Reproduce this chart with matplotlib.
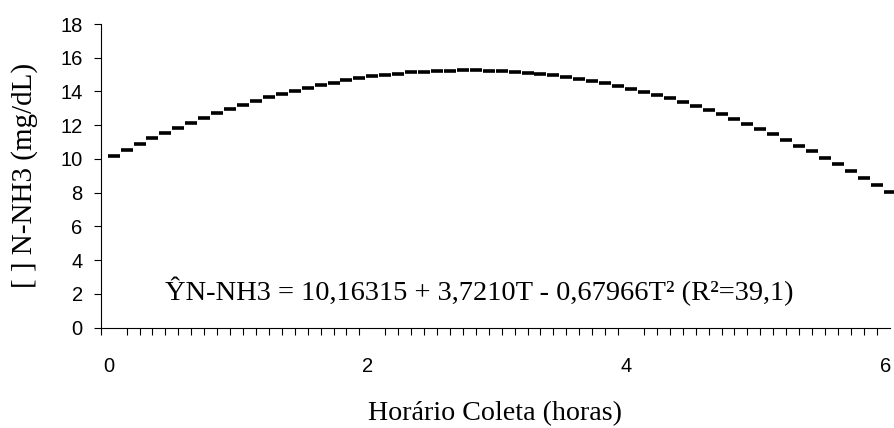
import numpy as np
import matplotlib
matplotlib.use("Agg")
import matplotlib.pyplot as plt
import matplotlib.transforms as mtransforms

# Horário de coleta (horas), passo de 0,1 h
horario = [round(0.1 * i, 1) for i in range(61)]
nnh3 = [10.16, 10.53, 10.88, 11.22, 11.54, 11.85, 12.15, 12.44, 12.71, 12.96,
        13.21, 13.43, 13.65, 13.85, 14.04, 14.22, 14.38, 14.53, 14.66, 14.78,
        14.89, 14.98, 15.06, 15.13, 15.18, 15.22, 15.24, 15.26, 15.25, 15.24,
        15.21, 15.17, 15.11, 15.04, 14.96, 14.86, 14.75, 14.63, 14.49, 14.34,
        14.17, 13.99, 13.80, 13.60, 13.38, 13.15, 12.90, 12.64, 12.37, 12.08,
        11.78, 11.46, 11.13, 10.79, 10.44, 10.07, 9.69, 9.29, 8.88, 8.46,
        8.02]
xticks = [0, 2, 4, 6]
yticks = [0, 2, 4, 6, 8, 10, 12, 14, 16, 18]
equacao = "ŶN-NH3 = 10,16315 + 3,7210T - 0,67966T² (R²=39,1)"

W, H = 895, 428
fig = plt.figure(figsize=(W / 100, H / 100), dpi=100)
ax = fig.add_axes([100.7 / W, 1 - 327.5 / H, 789 / W, 303.5 / H])

ax.plot(horario, nnh3, linestyle="none", marker="_", markersize=8.0,
        markeredgewidth=2.6, color="black", clip_on=False)

ax.set_xlim(-0.1, 6.0)
ax.set_ylim(0, 18)
ax.set_yticks(yticks)
ax.set_yticklabels([str(v) for v in yticks], fontsize=14.5,
                   family="Liberation Sans")
ax.set_xticks(xticks)
ax.set_xticklabels([str(v) for v in xticks], fontsize=14.5,
                   family="Liberation Sans")
ax.set_xticks(np.arange(-0.1, 6.05, 0.1), minor=True)
ax.tick_params(axis="x", which="major", length=0, pad=21)
ax.tick_params(axis="x", which="minor", length=5, direction="out", width=0.8)
ax.tick_params(axis="y", which="major", length=5, direction="out", width=0.8,
               pad=8)

# rótulos do eixo x levemente deslocados para a esquerda, como no original
desloc = mtransforms.ScaledTranslation(-4.5 / 100, 0, fig.dpi_scale_trans)
for lab in ax.get_xticklabels():
    lab.set_transform(lab.get_transform() + desloc)

for s in ["top", "right"]:
    ax.spines[s].set_visible(False)
for s in ["left", "bottom"]:
    ax.spines[s].set_linewidth(0.8)

fig.text(24.5 / W, 1 - 175 / H, "[ ] N-NH3 (mg/dL)", rotation=90,
         fontsize=21, family="Liberation Serif", ha="center", va="center")
fig.text(495 / W, (H - 420) / H, "Horário Coleta (horas)",
         fontsize=20.2, family="Liberation Serif", ha="center", va="baseline")
fig.text(479 / W, (H - 300) / H, equacao, fontsize=20.5,
         family="Liberation Serif", ha="center", va="baseline")

fig.savefig("out.png", dpi=100)
